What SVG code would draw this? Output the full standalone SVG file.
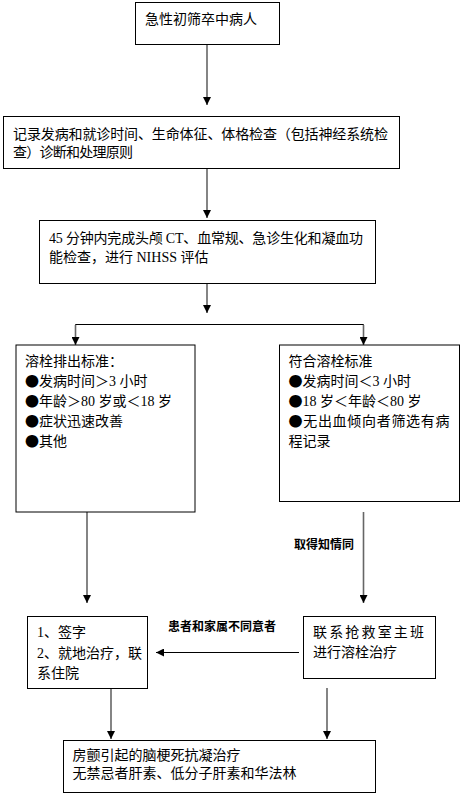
<svg xmlns="http://www.w3.org/2000/svg" width="462" height="797" viewBox="0 0 462 797">
<style>
.box{fill:#fff;stroke:#000;stroke-width:1}
.t{font-family:"Liberation Serif","Noto Sans CJK SC",serif;font-size:14px;fill:#000}
.c{font-family:"Noto Sans CJK SC",sans-serif}
.lbl{font-family:"Noto Sans CJK SC",sans-serif;font-size:12px;font-weight:bold;fill:#000}
.v{stroke:#666;stroke-width:1.6;fill:none}
.h{stroke:#000;stroke-width:1;fill:none}
</style>
<defs>
<marker id="ah" markerUnits="userSpaceOnUse" markerWidth="8" markerHeight="8" refX="8" refY="4" orient="auto">
<path d="M0,0 L8,4 L0,8 z" fill="#000"/>
</marker>
</defs>
<rect width="462" height="797" fill="#fff"/>
<g id="connectors">
<line class="v" x1="207" y1="44" x2="207" y2="105" marker-end="url(#ah)"/>
<line class="v" x1="207" y1="168" x2="207" y2="218" marker-end="url(#ah)"/>
<line class="v" x1="207" y1="283" x2="207" y2="313" marker-end="url(#ah)"/>
<polyline class="h" points="75.5,345 75.5,324.5 363.5,324.5 363.5,345"/>
<line class="v" x1="75.5" y1="325" x2="75.5" y2="345" marker-end="url(#ah)"/>
<line class="v" x1="363.5" y1="325" x2="363.5" y2="345" marker-end="url(#ah)"/>
<line class="v" x1="87" y1="512" x2="87" y2="603" marker-end="url(#ah)"/>
<line class="v" x1="363.5" y1="512" x2="363.5" y2="603" marker-end="url(#ah)"/>
<text class="lbl" x="294" y="549">取得知情同</text>
<line class="h" x1="299" y1="652.5" x2="156" y2="652.5" marker-end="url(#ah)"/>
<text class="lbl" x="168" y="631">患者和家属不同意者</text>
<line class="v" x1="111" y1="688" x2="111" y2="739" marker-end="url(#ah)"/>
<line class="v" x1="327" y1="688" x2="327" y2="739" marker-end="url(#ah)"/>
</g>
<g id="n1">
<rect class="box" x="135.5" y="2.5" width="144" height="42"/>
<text class="t c" x="145" y="24">急性初筛卒中病人</text>
</g>
<g id="n2">
<rect class="box" x="3.5" y="116.5" width="396" height="52"/>
<text class="t c" x="13" y="139" textLength="375" lengthAdjust="spacing">记录发病和就诊时间、生命体征、体格检查（包括神经系统检</text>
<text class="t c" x="13" y="157" textLength="120" lengthAdjust="spacing">查）诊断和处理原则</text>
</g>
<g id="n3">
<rect class="box" x="39.5" y="220.5" width="336" height="63"/>
<text class="t" x="49" y="243" textLength="314" lengthAdjust="spacing">45 分钟内完成头颅 CT、血常规、急诊生化和凝血功</text>
<text class="t" x="49" y="262">能检查，进行 NIHSS 评估</text>
</g>
<g id="n4">
<rect class="box" x="16" y="345" width="179" height="167"/>
<text class="t" x="25" y="366">溶栓排出标准：</text>
<text class="t" x="25" y="386"><tspan class="c">●</tspan>发病时间＞3 小时</text>
<text class="t" x="25" y="406"><tspan class="c">●</tspan>年龄＞80 岁或＜18 岁</text>
<text class="t" x="25" y="426"><tspan class="c">●</tspan>症状迅速改善</text>
<text class="t" x="25" y="446"><tspan class="c">●</tspan>其他</text>
</g>
<g id="n5">
<rect class="box" x="279.5" y="345" width="180" height="156.5"/>
<text class="t" x="288.5" y="366">符合溶栓标准</text>
<text class="t" x="288.5" y="386"><tspan class="c">●</tspan>发病时间＜3 小时</text>
<text class="t" x="288.5" y="406"><tspan class="c">●</tspan>18 岁＜年龄＜80 岁</text>
<text class="t c" x="288.5" y="426" textLength="161" lengthAdjust="spacing">●无出血倾向者筛选有病</text>
<text class="t" x="288.5" y="446">程记录</text>
</g>
<g id="n6">
<rect class="box" x="27.5" y="616.5" width="120" height="72"/>
<text class="t" x="37" y="637">1、签字</text>
<text class="t" x="37" y="658">2、就地治疗，联</text>
<text class="t" x="37" y="677.5">系住院</text>
</g>
<g id="n7">
<rect class="box" x="303.5" y="616.5" width="132" height="62"/>
<text class="t c" x="313" y="637" textLength="111" lengthAdjust="spacing">联系抢救室主班</text>
<text class="t c" x="313" y="657">进行溶栓治疗</text>
</g>
<g id="n8">
<rect class="box" x="63.5" y="740.5" width="312" height="52"/>
<text class="t c" x="72.5" y="760">房颤引起的脑梗死抗凝治疗</text>
<text class="t c" x="72.5" y="778">无禁忌者肝素、低分子肝素和华法林</text>
</g>
</svg>
